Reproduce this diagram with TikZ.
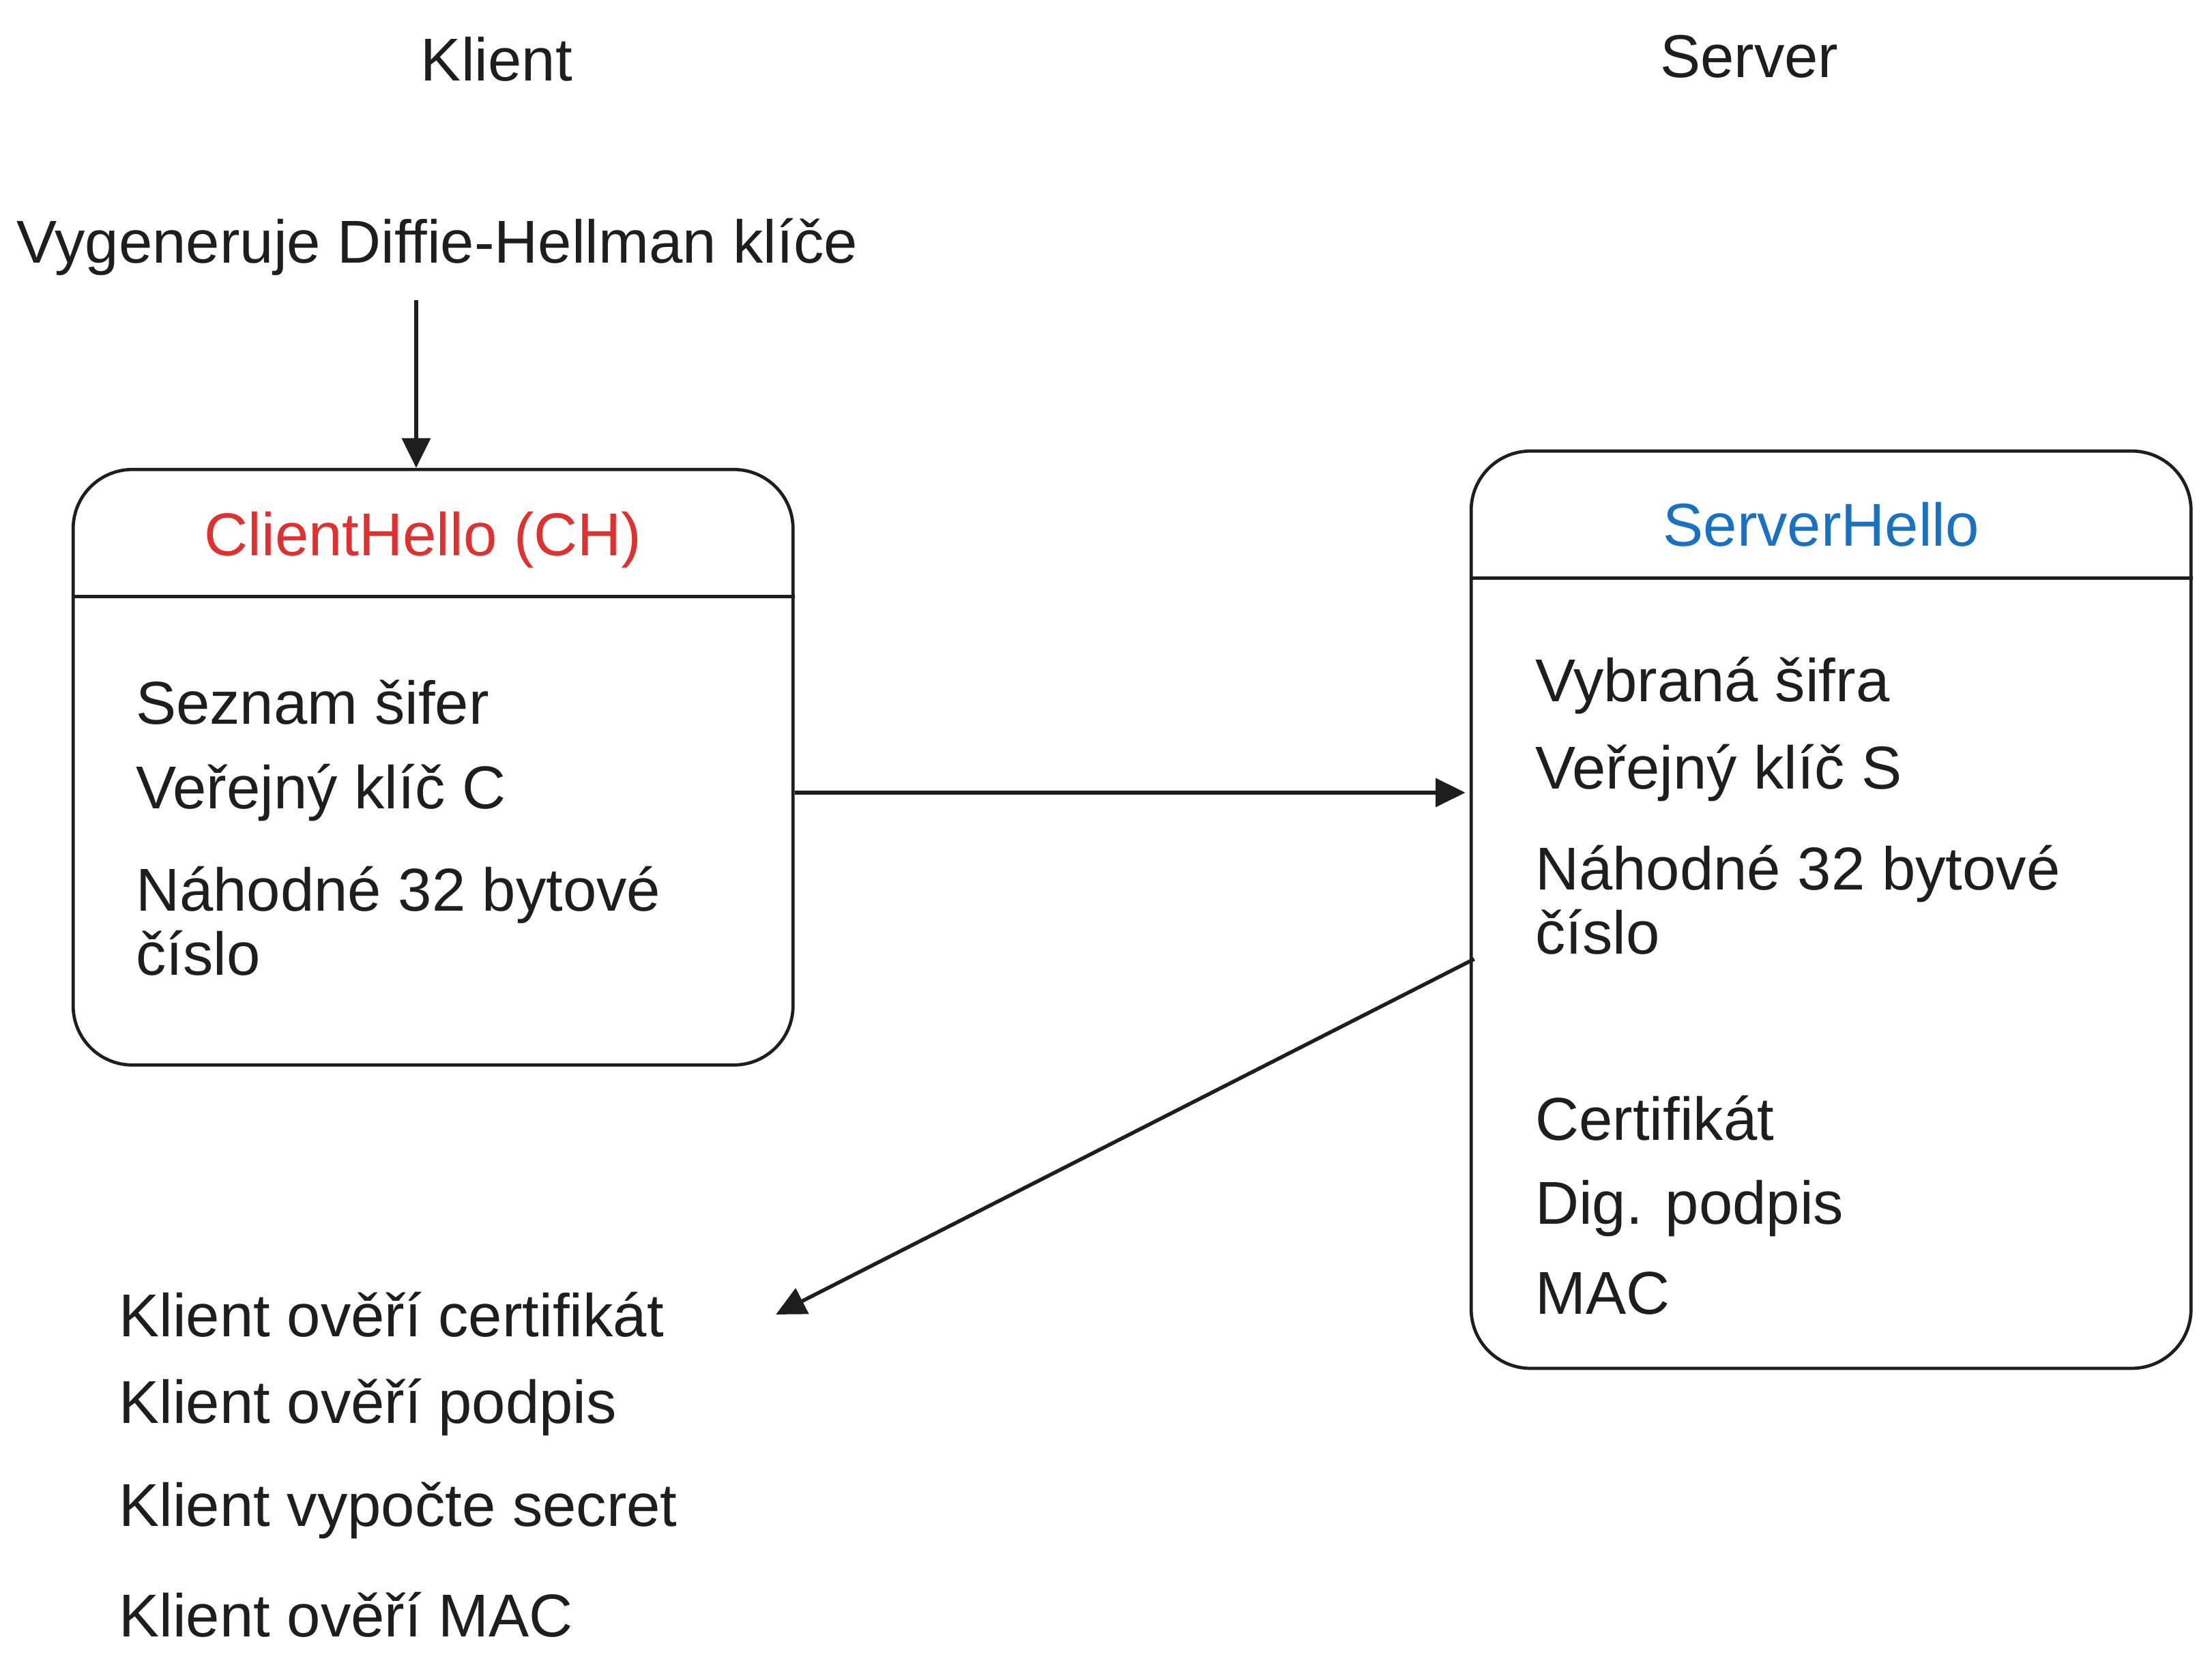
\documentclass[tikz,border=0pt]{standalone}
\usepackage{fontspec}
\setmainfont{Liberation Sans}
\usepackage{tikz}
\usetikzlibrary{arrows.meta,positioning}
\definecolor{ink}{HTML}{1E1E1E}
\definecolor{chred}{HTML}{E03131}
\definecolor{shblue}{HTML}{1971C2}
\tikzstyle{msg} = [rectangle, draw=ink, line width=0.65pt, rounded corners=0.42cm, minimum width=5.1cm]
\tikzstyle{item} = [anchor=west, inner sep=0pt, align=left]

\begin{document}
\begin{tikzpicture}[x=0.01cm,y=-0.01cm,->,>={Triangle[length=0.21cm,width=0.2cm]},line width=0.75pt,ink,font=\fontsize{12.2}{15}\selectfont]
  \useasboundingbox (0,0) rectangle (1568,1188);

  \node (klient) at (352,42) {Klient};
  \node (server) at (1240,40) {Server};
  \node (dh) at (310,175) {Vygeneruje Diffie-Hellman klíče};

  % ClientHello
  \node[msg, minimum height=4.22cm] (ch) at (307,544) {};
  \node[text=chred] (chtitle) at (300,383) {ClientHello (CH)};
  \draw[-, line width=0.65pt] (ch.west |- 0,423) -- (ch.east |- 0,423);
  \node[item] (ciphers) at (95,498) {Seznam šifer};
  \node[item] (vc) at (95,562) {Veřejný klíč C};
  \node[item] (rc) at (95,653) {Náhodné 32 bytové\\[-2pt]číslo};

  % ServerHello
  \node[msg, minimum height=6.5cm] (sh) at (1298,645) {};
  \node[text=shblue] (shtitle) at (1291,372) {ServerHello};
  \draw[-, line width=0.65pt] (sh.west |- 0,410) -- (sh.east |- 0,410);
  \node[item] (cipher) at (1087,486) {Vybraná šifra};
  \node[item] (vs) at (1087,548) {Veřejný klíč S};
  \node[item] (rs) at (1087,638) {Náhodné 32 bytové\\[-2pt]číslo};
  \node[item] (cert) at (1087,793) {Certifikát};
  \node[item] (sig) at (1087,857) {Dig. podpis};
  \node[item] (mac) at (1087,917) {MAC};

  % klient
  \node[item] (kcert) at (83,932) {Klient ověří certifikát};
  \node[item] (ksig) at (83,998) {Klient ověří podpis};
  \node[item] (ksecret) at (83,1071) {Klient vypočte secret};
  \node[item] (kmac) at (83,1145) {Klient ověří MAC};

  \coordinate (dhfoot) at (295,213);
  \coordinate (shout) at (1045,680);
  \path (dhfoot) edge (ch.north -| dhfoot);
  \path (ch.east |- vc) edge ([xshift=-0.03cm]sh.west |- vc);
  \path (shout) edge (kcert.east -| 550,0);
\end{tikzpicture}
\end{document}
